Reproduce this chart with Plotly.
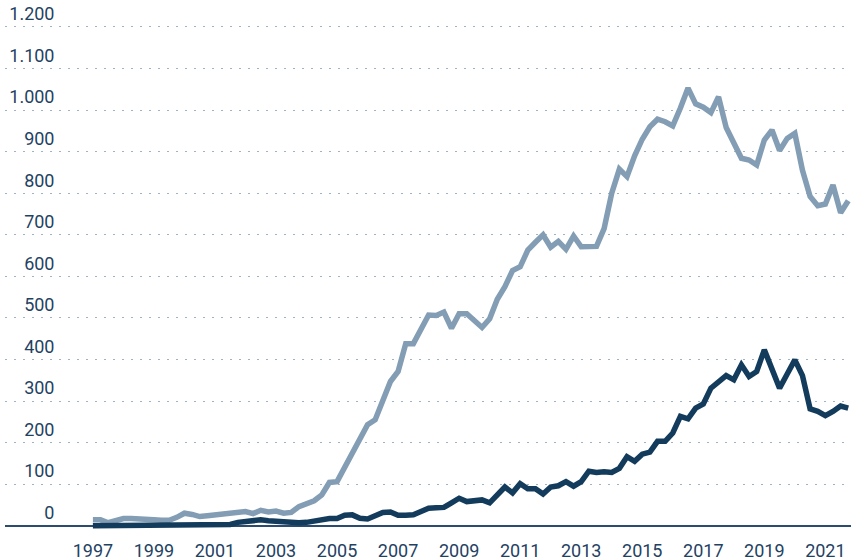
import plotly.graph_objects as go

# Quarterly data, 1997 Q1 .. 2021 Q4
years_start = 1997
light_values = [
    14, 14, 7, 12, 17, 17, 17, 17, 14, 13,
    13, 20, 30, 27, 22, 24, 26, 30, 32, 33,
    34, 29, 37, 33, 35, 30, 32, 46, 52, 60,
    74, 104, 106, 140, 174, 209, 243, 255, 300, 347,
    371, 438, 438, 473, 507, 506, 514, 475, 510, 510,
    493, 477, 498, 545, 575, 614, 623, 663, 682, 700,
    670, 684, 665, 697, 671, 671, 672, 715, 800, 858,
    840, 890, 930, 960, 978, 972, 962, 1005, 1053, 1015,
    1007, 994, 1032, 958, 920, 884, 880, 868, 928, 952,
    903, 932, 944, 855, 792, 770, 774, 820, 753, 782,
]
dark_values = [
    0, 0, 0, 0, 0, 0, 0, 0, 0, 0,
    0, 0, 0, 0, 0, 0, 0, 0, 3, 8,
    11, 13, 14, 12, 10, 8, 7, 7, 8, 11,
    15, 17, 17, 25, 26, 18, 16, 24, 32, 33,
    25, 25, 26, 34, 42, 43, 44, 55, 66, 58,
    61, 62, 55, 74, 93, 79, 101, 89, 89, 76,
    93, 96, 106, 95, 106, 131, 128, 130, 128, 138,
    166, 155, 172, 177, 203, 203, 223, 263, 257, 283,
    293, 331, 345, 361, 351, 387, 359, 371, 423, 375,
    331, 365, 399, 361, 281, 275, 265, 275, 288, 283,
]
x_values = [years_start + q / 4 for q in range(len(light_values))]

x_tick_vals = list(range(1997, 2022, 2))
x_tick_text = [str(v) for v in x_tick_vals]
y_tick_vals = list(range(0, 1201, 100))
y_tick_text = ["0", "100", "200", "300", "400", "500", "600", "700", "800",
               "900", "1.000", "1.100", "1.200"]

LIGHT = "#839db4"
DARK = "#133b5c"
TEXT = "#1f4263"

fig = go.Figure()
fig.add_trace(go.Scatter(x=x_values, y=light_values, mode="lines",
                         line=dict(color=LIGHT, width=5.5), showlegend=False,
                         hoverinfo="skip"))
fig.add_trace(go.Scatter(x=x_values, y=dark_values, mode="lines",
                         line=dict(color=DARK, width=5.5), showlegend=False,
                         hoverinfo="skip"))

fig.update_layout(
    width=851, height=560,
    margin=dict(l=5, r=0, t=24, b=31, autoexpand=False),
    paper_bgcolor="white", plot_bgcolor="white",
    font=dict(family="Roboto", size=18, color=TEXT),
    xaxis=dict(
        range=[1994.12, 2021.84],
        tickmode="array", tickvals=x_tick_vals, ticktext=x_tick_text,
        showgrid=False, zeroline=False, showline=False, ticks="",
        automargin=False,
        ticklabelstandoff=9,
        tickfont=dict(family="Roboto", size=18, color=TEXT),
    ),
    yaxis=dict(
        range=[-8, 1207.2],
        tickmode="array", tickvals=y_tick_vals, ticktext=y_tick_text,
        showgrid=True, gridcolor="#9fb2c6", gridwidth=1, griddash="2px,7px",
        zeroline=True, zerolinecolor="#2b4c6e", zerolinewidth=1.5,
        showline=False, ticks="",
        automargin=False,
        anchor="free", position=0.0585,
        ticklabelshift=-13,
        tickfont=dict(family="Roboto", size=18, color=TEXT),
    ),
)

fig.write_html(
    "out.html",
    config={"displayModeBar": False},
    post_script="document.body.style.margin='0';",
)
